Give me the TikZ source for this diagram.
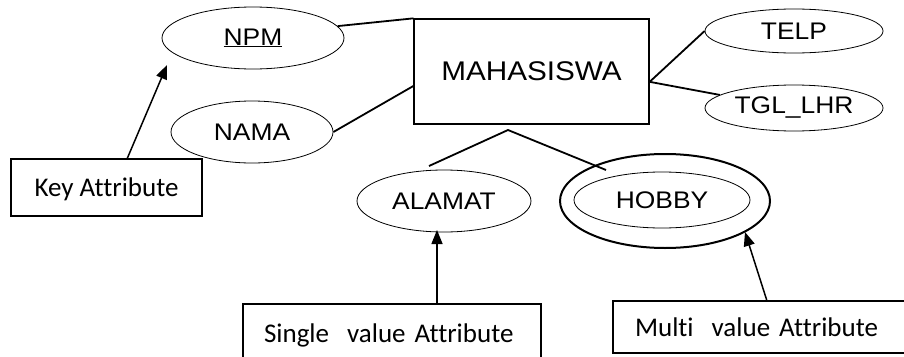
\documentclass[tikz,border=0pt]{standalone}
\usepackage{fontspec}
\newfontfamily\erfont{Liberation Sans}[FakeStretch=1.1]
\newfontfamily\notefont{Carlito}[Ligatures=NoCommon]
\usetikzlibrary{shapes.geometric,arrows.meta}
\begin{document}
\begin{tikzpicture}[x=1pt,y=-1pt,
  attr/.style={ellipse,draw,line width=0.8pt,inner sep=0pt,font=\erfont\fontsize{24}{28}\selectfont},
  entity/.style={rectangle,draw,line width=1.3pt,inner sep=0pt,font=\erfont\fontsize{27}{32}\selectfont},
  note/.style={rectangle,draw,line width=1.3pt,inner ysep=0pt,text depth=0pt,font=\notefont\fontsize{27}{32}\selectfont},
  link/.style={line width=1.8pt},
  pointer/.style={line width=1.5pt,-{Triangle[length=14pt,width=11pt]}}]
\useasboundingbox (0,0) rectangle (904,356);
\clip (0,0) rectangle (904,356);

% entity
\node[entity,minimum width=235pt,minimum height=105pt] (mhs) at (531.5,71.5) {MAHASISWA};

% attributes
\node[attr,minimum width=182pt,minimum height=62pt] (npm) at (253,38) {\underline{NPM}};
\node[attr,minimum width=162pt,minimum height=62pt] (nama) at (252,132) {NAMA};
\node[attr,minimum width=178pt,minimum height=44pt] (telp) at (794,31) {TELP};
\node[attr,minimum width=178pt,minimum height=46pt] (tgl) at (794,108) {TGL\_LHR};
\node[attr,minimum width=174pt,minimum height=62pt] (alamat) at (444,201) {ALAMAT};
\node[ellipse,draw,line width=2pt,minimum width=210pt,minimum height=94pt,inner sep=0pt] (hobbyout) at (665,201) {};
\node[attr,minimum width=176pt,minimum height=56pt] (hobby) at (662,200) {HOBBY};

% annotation boxes
\node[note,minimum width=191pt,minimum height=57pt] (keyb) at (106.5,187.5) {Key Attribute};
\node[note,text width=256pt,inner xsep=21pt,align=left,minimum height=58pt] (single) at (392,333) {Single\ \ value Attribute};
\node[note,text width=263pt,inner xsep=22pt,align=left,minimum height=52pt] (multi) at (766.5,327) {Multi\ \ value Attribute};

% connector ends
\coordinate (apex) at (508,130);
\coordinate (alend) at (429,166);
\coordinate (hbend) at (606,170);
\coordinate (keybase) at (127,159);
\coordinate (keytip) at (167,65);
\coordinate (sbase) at (437,304);
\coordinate (stip) at (437,230);
\coordinate (mbase) at (767,301);
\coordinate (mtip) at (745,232);

% links between entity and attributes
\draw[link] (npm.8) -- (mhs.north west);
\draw[link] (nama.east) -- (mhs.187);
\draw[link] (mhs.-5) -- (telp.west);
\draw[link] (mhs.-5) -- (tgl.170);
\draw[link] (alend) -- (apex) -- (hbend);

% pointers from the notes
\draw[pointer] (keybase) -- (keytip);
\draw[pointer] (sbase) -- (stip);
\draw[pointer] (mbase) -- (mtip);
\end{tikzpicture}
\end{document}
